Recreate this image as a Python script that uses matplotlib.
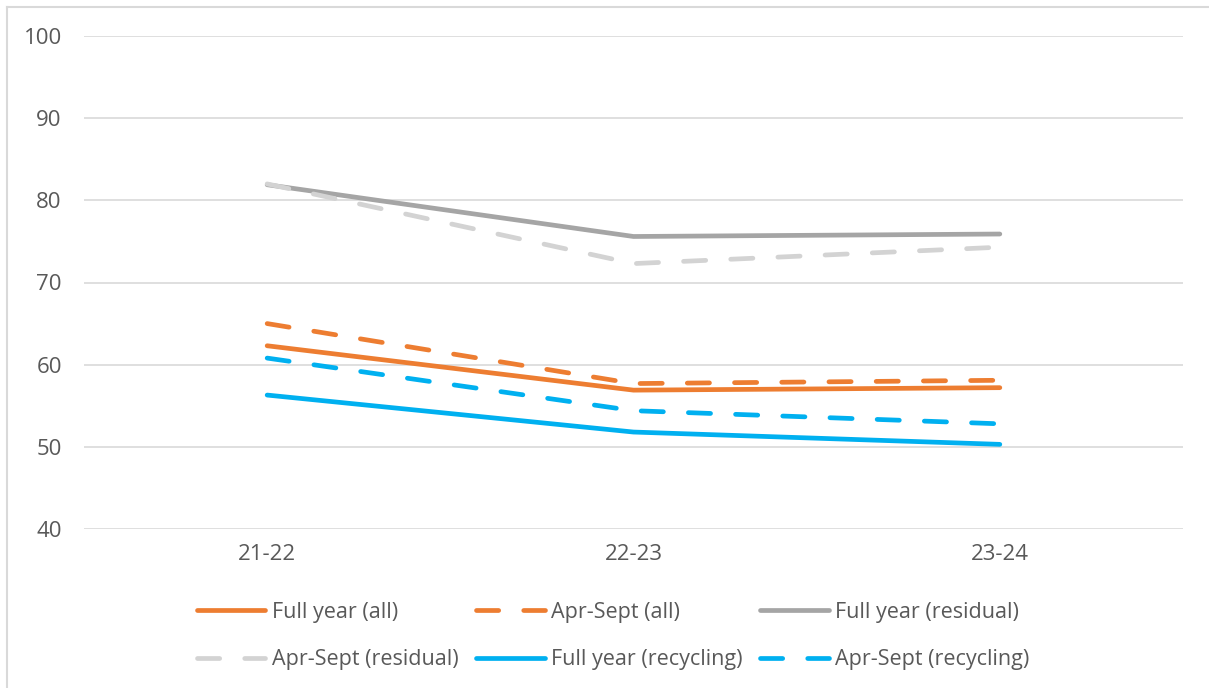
import matplotlib.pyplot as plt
from matplotlib.lines import Line2D

years = ['21-22', '22-23', '23-24']

full_all = [62.3, 56.9, 57.2]
sept_all = [65.0, 57.7, 58.1]
full_residual = [81.9, 75.6, 75.9]
sept_residual = [82.0, 72.3, 74.3]
full_recycling = [56.3, 51.8, 50.3]
sept_recycling = [60.8, 54.4, 52.8]

orange = '#ED7D31'
grey = '#A5A5A5'
light_grey = '#D3D3D3'
blue = '#00B0F0'
text_col = '#595959'

plt.rcParams['font.family'] = ['Open Sans', 'DejaVu Sans']

W, H = 1209, 688
fig = plt.figure(figsize=(W / 100, H / 100), dpi=100)
ax = fig.add_axes([84 / W, 1 - 529 / H, (1183 - 84) / W, (529 - 36) / H])

x = range(len(years))
lw = 3.4
dash = (4.7, 5.3)
series = [
    (full_all, orange, None, 'Full year (all)'),
    (sept_all, orange, dash, 'Apr-Sept (all)'),
    (full_residual, grey, None, 'Full year (residual)'),
    (sept_residual, light_grey, dash, 'Apr-Sept (residual)'),
    (full_recycling, blue, None, 'Full year (recycling)'),
    (sept_recycling, blue, dash, 'Apr-Sept (recycling)'),
]
for vals, col, ds, lab in series:
    if ds is None:
        ax.plot(x, vals, color=col, lw=lw, solid_capstyle='round', label=lab, zorder=3)
    else:
        ax.plot(x, vals, color=col, lw=lw, dashes=ds, dash_capstyle='round', label=lab, zorder=3)

ax.set_xlim(-0.5, 2.5)
ax.set_ylim(40, 100)
ax.set_yticks(range(40, 101, 10))
ax.set_xticks(list(x))
ax.set_xticklabels(years)
ax.grid(axis='y', color='#D9D9D9', lw=1.2)
ax.set_axisbelow(True)
for s in ax.spines.values():
    s.set_visible(False)
ax.tick_params(length=0, labelsize=16, colors=text_col)
ax.tick_params(axis='y', pad=16)
ax.tick_params(axis='x', pad=11)

# legend fills row by row
handles, labels = ax.get_legend_handles_labels()
order = [0, 3, 1, 4, 2, 5]
leg = fig.legend([handles[i] for i in order], [labels[i] for i in order],
                 loc='center', bbox_to_anchor=(613 / W, 1 - 636 / H), ncol=3,
                 frameon=False, fontsize=15.5, handlelength=3.2, handletextpad=0.3,
                 columnspacing=0.8, labelspacing=1.25)
for t in leg.get_texts():
    t.set_color(text_col)

# outer frame
fig.add_artist(Line2D([7 / W, 1], [1 - 7 / H, 1 - 7 / H], transform=fig.transFigure,
                      color='#D9D9D9', lw=1.5))
fig.add_artist(Line2D([7 / W, 7 / W], [0, 1 - 7 / H], transform=fig.transFigure,
                      color='#D9D9D9', lw=1.5))

fig.savefig('out.png', dpi=100)
